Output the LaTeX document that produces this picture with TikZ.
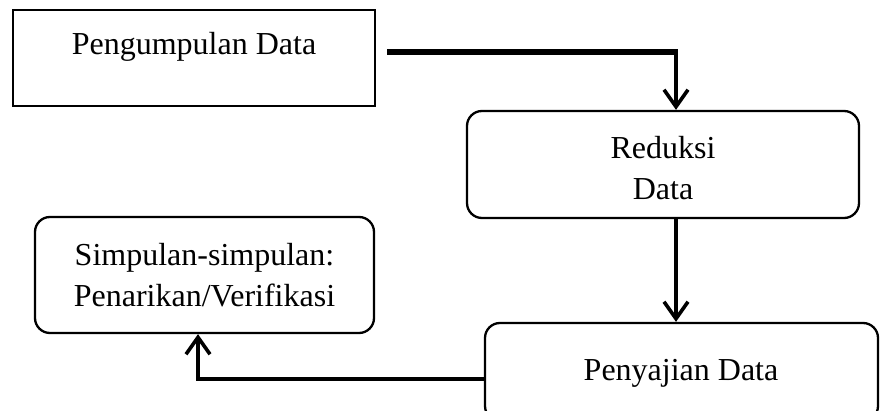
\documentclass[tikz,border=0pt]{standalone}
\usepackage{fontspec}
\setmainfont{Liberation Serif}
\usetikzlibrary{arrows.meta,calc}
\begin{document}
\begin{tikzpicture}[x=1pt,y=-1pt,
  txt/.style={font=\fontsize{32}{41}\selectfont, align=center, inner sep=0pt},
  sqbox/.style={draw, line width=1.8pt, rectangle, inner sep=0pt},
  rbox/.style={draw, line width=2.3pt, rectangle, rounded corners=15pt, inner sep=0pt},
  conn/.style={line width=3.8pt, -{Straight Barb[length=17pt,width=24pt,line width=3.6pt]}}
]
\useasboundingbox (0,0) rectangle (884,411);
\clip (0,0) rectangle (884,411);
% boxes
\node[sqbox, minimum width=362pt, minimum height=96pt] (p) at (194,58) {};
\node[txt] (pt) at (194,47) {Pengumpulan Data};
\node[rbox, minimum width=392pt, minimum height=107pt] (r) at (663,164.5) {};
\node[txt] (rt) at (663,168) {Reduksi\\Data};
\node[rbox, minimum width=393pt, minimum height=98pt] (s) at (681.5,372) {};
\node[txt] (st) at (681,373) {Penyajian Data};
\node[rbox, minimum width=339pt, minimum height=116pt] (k) at (204.5,275) {};
\node[txt] (kt) at (204.5,275) {Simpulan-simpulan:\\Penarikan/Verifikasi};
% connectors
\coordinate (a1) at (387,52);
\coordinate (a1b) at (676,52);
\draw[line width=5.4pt] (a1) -- ([xshift=1.5pt]a1b);
\draw[line width=3.6pt, -{Straight Barb[length=17pt,width=24pt,line width=3.6pt]}] (a1b) -- (a1b |- r.north);
\draw[conn] ([xshift=13pt]r.south) -- ([xshift=13pt]r.south |- s.north);
\draw[conn] ($(s.west)+(0,7)$) -| ([xshift=-6.5pt]k.south);
\end{tikzpicture}
\end{document}
